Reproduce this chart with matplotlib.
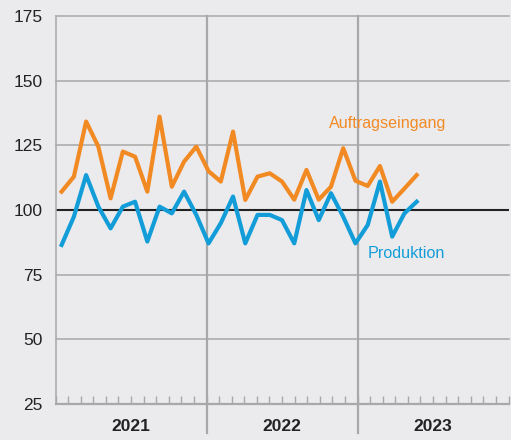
import numpy as np
import matplotlib.pyplot as plt

plt.rcParams['font.family'] = ['Liberation Sans', 'DejaVu Sans']

# Monthly index values, Jan 2021 .. Jun 2023
auftragseingang = [107.1, 112.9, 134.2, 124.5, 104.5, 122.6, 120.6, 107.1, 136.1, 109.0, 118.7, 124.5,
                   115.0, 111.0, 130.3, 103.9, 112.9, 114.2, 111.0, 104.0, 115.5, 104.0, 109.0, 123.9,
                   111.3, 109.3, 117.0, 103.2, 108.3, 113.5]
produktion = [86.5, 97.4, 113.5, 101.3, 92.9, 101.3, 103.2, 87.8, 101.3, 98.7, 107.1, 98.1,
              87.1, 94.9, 105.2, 87.1, 98.1, 98.1, 96.1, 87.1, 107.7, 96.1, 106.5, 97.4,
              87.1, 94.2, 111.0, 89.7, 98.7, 103.2]
years = ['2021', '2022', '2023']
y_ticks = [25, 50, 75, 100, 125, 150, 175]

bg = '#ebebee'
grid_c = '#a8a8a8'
orange = '#f28a24'
blue = '#139dd8'

fig = plt.figure(figsize=(5.11, 4.40), dpi=100, facecolor=bg)
ax = fig.add_axes([55.5 / 511, 36 / 440, 453 / 511, 388 / 440], facecolor=bg)

# category axis: 37 monthly slots across the 3 years
n_slots = 37
x = np.arange(len(produktion))
ax.set_xlim(-0.5, n_slots - 0.5)
ax.set_ylim(25, 175)

# horizontal grid
for v in y_ticks[1:]:
    if v != 100:
        ax.axhline(v, color=grid_c, lw=1.1, zorder=1, clip_on=False)

# month ticks and year separators
scale = n_slots / 36
month_pos = [k * scale - 0.5 for k in range(37)]
ax.set_xticks(month_pos)
ax.tick_params(axis='x', direction='in', length=5.5, width=1.0, color=grid_c, labelbottom=False)
for k in (12, 24):
    ax.axvline(month_pos[k], ymin=-0.075, ymax=1, color=grid_c, lw=1.6, zorder=1, clip_on=False)

ax.axhline(100, color='#222222', lw=1.5, zorder=2)

ax.plot(x, auftragseingang, color=orange, lw=3.0, zorder=3)
ax.plot(x, produktion, color=blue, lw=3.0, zorder=3)

# series labels
fig.text(329 / 511, 1 - 128 / 440, 'Auftragseingang', color=orange, fontsize=11.6, va='baseline')
fig.text(368 / 511, 1 - 258 / 440, 'Produktion', color=blue, fontsize=11.6, va='baseline')

# year labels
for i, yr in enumerate(years):
    cx = (month_pos[i * 12] + month_pos[i * 12 + 12]) / 2
    ax.text(cx, -0.058, yr, transform=ax.get_xaxis_transform(), ha='center', va='center',
            fontsize=12.5, fontweight='bold', color='#222222')

ax.set_yticks(y_ticks)
ax.tick_params(axis='y', length=0, pad=9, labelsize=12.5, labelcolor='#222222')

for s in ('right', 'top'):
    ax.spines[s].set_visible(False)
ax.spines['left'].set_color(grid_c)
ax.spines['left'].set_linewidth(1.1)
ax.spines['bottom'].set_color(grid_c)
ax.spines['bottom'].set_linewidth(1.6)

fig.savefig('out.png', dpi=100, facecolor=bg)
